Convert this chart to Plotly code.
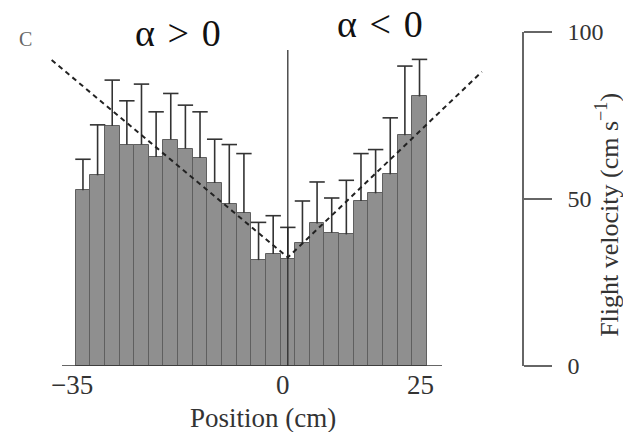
import plotly.graph_objects as go

# ---- data ----
positions = [-33.75, -31.25, -28.75, -26.25, -23.75, -21.25, -18.75, -16.25,
             -13.75, -11.25, -8.75, -6.25, -3.75, -1.25, 1.25, 3.75,
             6.25, 8.75, 11.25, 13.75, 16.25, 18.75, 21.25, 23.75]
velocity = [52.6, 57.1, 71.9, 66.3, 66.3, 62.6, 67.8, 65.1,
            62.3, 54.8, 48.5, 45.9, 31.7, 33.5, 32.1, 36.7,
            42.7, 39.9, 39.4, 49.4, 51.7, 57.4, 69.1, 80.7]
velocity_err = [9.3, 15.1, 13.7, 13.1, 18.1, 13.5, 13.8, 13.0,
                13.8, 13.1, 17.8, 17.7, 11.3, 11.5, 9.4, 12.7,
                12.4, 10.4, 16.2, 14.2, 13.1, 16.9, 20.7, 11.1]
v_line_x = [-39.1, 1.25, 34.4]
v_line_y = [91.6, 32.5, 88.1]
center_line_x = [1.25, 1.25]
center_line_y = [0, 94.6]
x_tick_pos = [-35.6, 0.4, 23.9]
x_tick_text = ["\u221235", "0", "25"]
y_tick_vals = [0, 50, 100]

FONT = "Liberation Serif"
TXT = "#333333"
ERR = "#333333"

err_tops = [v + e for v, e in zip(velocity, velocity_err)]

fig = go.Figure()
fig.add_trace(go.Bar(
    x=positions, y=velocity, width=2.5,
    marker=dict(color="#8f8f8f", line=dict(color="#5f5f5f", width=1)),
    showlegend=False,
))
fig.add_trace(go.Scatter(
    x=positions, y=err_tops, mode="markers",
    marker=dict(symbol="line-ew", size=11, color=ERR,
                line=dict(color=ERR, width=1.6)),
    error_y=dict(type="data", symmetric=False, array=[0] * len(err_tops),
                 arrayminus=velocity_err, width=0, thickness=1.6, color=ERR),
    showlegend=False,
))
fig.add_trace(go.Scatter(
    x=v_line_x, y=v_line_y, mode="lines",
    line=dict(color="#222222", width=2, dash="5px,4px"),
    showlegend=False,
))
fig.add_trace(go.Scatter(
    x=center_line_x, y=center_line_y, mode="lines",
    line=dict(color="#222222", width=1.2),
    showlegend=False,
))

fig.add_shape(type="line", xref="x", yref="y", x0=-37.33, x1=27.59, y0=0, y1=0,
              line=dict(color="#333333", width=1.5), layer="above")

fig.update_layout(
    width=623, height=432,
    margin=dict(l=40, r=101, t=32, b=66),
    paper_bgcolor="white", plot_bgcolor="white",
    bargap=0,
    font=dict(family=FONT, color=TXT),
    xaxis=dict(range=[-41.09, 41.26], showline=False, showgrid=False, zeroline=False,
               tickvals=x_tick_pos, ticktext=x_tick_text, ticks="",
               tickfont=dict(family=FONT, size=27, color=TXT)),
    yaxis=dict(range=[0, 100], side="right", showline=True, linecolor="#666666",
               linewidth=1.5, ticks="outside", ticklen=28, tickwidth=1.5,
               tickcolor="#666666", tickvals=y_tick_vals, showgrid=False, zeroline=False,
               ticklabelstandoff=11, automargin=False,
               tickfont=dict(family=FONT, size=24, color=TXT)),
    annotations=[
        dict(text="C", x=-0.0311, y=0.9805, xref="paper", yref="paper",
             showarrow=False, xanchor="center", yanchor="middle",
             font=dict(family=FONT, size=20, color="#666666")),
        dict(text="\u03b1\u2004>\u20040", x=0.2853, y=0.997, xref="paper", yref="paper",
             showarrow=False, xanchor="center", yanchor="middle",
             font=dict(family=FONT, size=38, color="#111111")),
        dict(text="\u03b1\u2004<\u20040", x=0.7064, y=1.024, xref="paper", yref="paper",
             showarrow=False, xanchor="center", yanchor="middle",
             font=dict(family=FONT, size=38, color="#111111")),
        dict(text="Position (cm)", x=0.4627, y=-0.1557, xref="paper", yref="paper",
             showarrow=False, xanchor="center", yanchor="middle",
             font=dict(family=FONT, size=27, color=TXT)),
        dict(text="Flight velocity (cm s<sup>\u22121</sup>)", x=1.176, y=0.452,
             xref="paper", yref="paper", textangle=-90,
             showarrow=False, xanchor="center", yanchor="middle",
             font=dict(family=FONT, size=26, color=TXT)),
    ],
)

fig.write_html("out.html", config={"displayModeBar": False},
               post_script="document.body.style.margin='0';")
